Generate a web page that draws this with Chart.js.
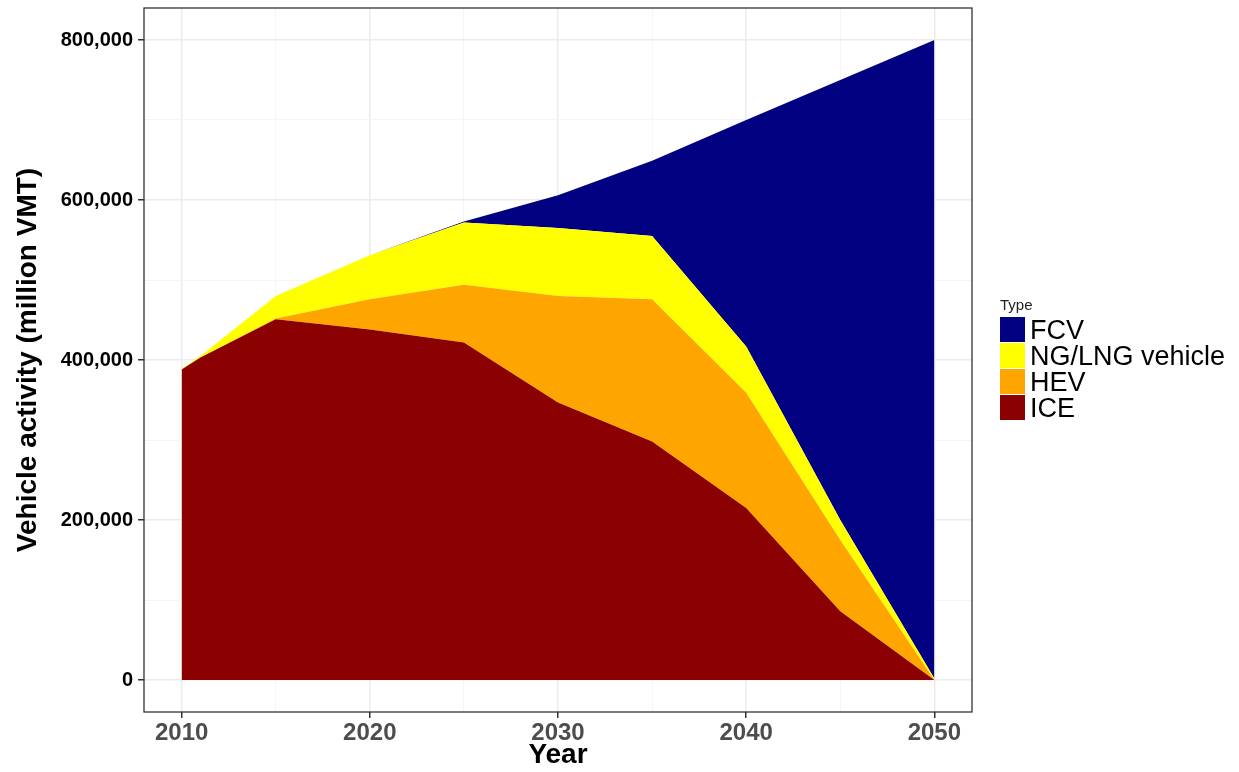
<!DOCTYPE html>
<html>
<head>
<meta charset="utf-8">
<script src="https://cdn.jsdelivr.net/npm/chart.js@4/dist/chart.umd.min.js"></script>
<style>
  body { margin: 0; background: #fff; font-family: "Liberation Sans", Arial, sans-serif; }
  #wrap { position: relative; width: 1239px; height: 772px; }
  #legend { position: absolute; left: 1000px; top: 297px; color: #000; }
  #legend .ttl { font-size: 15px; color: #222; height: 20px; line-height: 16px; }
  #legend .row { height: 26px; display: flex; align-items: center; }
  #legend .box { width: 25px; height: 25px; margin-right: 5px; border-bottom: 1px solid #fff; }
  #legend .lab { font-size: 27px; line-height: 26px; }
</style>
</head>
<body>
<div id="wrap">
  <canvas id="chart"></canvas>
  <div id="legend"></div>
</div>
<script>
const years = [2010, 2011, 2015, 2020, 2025, 2030, 2035, 2040, 2045, 2050]
const ice = [388000, 403000, 451000, 438000, 422000, 347000, 298000, 215000, 86000, 0]
const hev = [0, 0, 1000, 38000, 72000, 133000, 178000, 144000, 89000, 0]
const ng = [1000, 2000, 28000, 55000, 78000, 85000, 79000, 58000, 25000, 2000]
const fcv = [0, 0, 0, 0, 1000, 41000, 94000, 283000, 550000, 798000]

const xTicks = [2010, 2015, 2020, 2025, 2030, 2035, 2040, 2045, 2050]
const yTicks = [0, 100000, 200000, 300000, 400000, 500000, 600000, 700000, 800000]

const series = [
    { label: 'ICE', values: ice, color: '#8b0000' },
    { label: 'HEV', values: hev, color: '#ffa500' },
    { label: 'NG/LNG vehicle', values: ng, color: '#ffff00' },
    { label: 'FCV', values: fcv, color: '#000080' },
]

// legend like ggplot: title + stacked keys, top series first
let legendDiv = document.getElementById('legend')
let html = '<div class="ttl">Type</div>'
for (let i = series.length - 1; i >= 0; i--) {
    html += '<div class="row"><div class="box" style="background:' + series[i].color + '"></div>' +
        '<div class="lab">' + series[i].label + '</div></div>'
}
legendDiv.innerHTML = html

const panelBorder = {
    id: 'panelBorder',
    afterDatasetsDraw(chart) {
        const a = chart.chartArea
        const c = chart.ctx
        c.save()
        c.strokeStyle = '#333333'
        c.lineWidth = 1.3
        c.strokeRect(a.left, a.top, a.right - a.left, a.bottom - a.top)
        c.restore()
    }
}

const ctx = document.getElementById('chart').getContext('2d')

const dataChart = new Chart(ctx, {
    type: 'line',
    data: {
        datasets: series.map((s, i) => ({
            label: s.label,
            data: years.map((y, j) => ({ x: y, y: s.values[j] })),
            backgroundColor: s.color,
            borderColor: s.color,
            borderWidth: 0,
            pointRadius: 0,
            tension: 0,
            fill: i === 0 ? 'origin' : '-1',
        }))
    },
    options: {
        responsive: true,
        maintainAspectRatio: false,
        animation: false,
        layout: { padding: { left: 0, top: 0, right: 267, bottom: 0 } },
        plugins: {
            legend: { display: false },
            tooltip: { enabled: false },
        },
        scales: {
            x: {
                type: 'linear',
                min: 2008,
                max: 2052,
                afterBuildTicks: (scale) => { scale.ticks = xTicks.map(v => ({ value: v })) },
                afterFit: (scale) => { scale.height = 60; scale.paddingLeft = 0; scale.paddingRight = 0 },
                border: { display: false },
                grid: {
                    color: (c) => c.tick && c.tick.value % 10 === 0 ? '#ebebeb' : '#f5f5f5',
                    lineWidth: (c) => c.tick && c.tick.value % 10 === 0 ? 1.5 : 1,
                    tickColor: (c) => c.tick && c.tick.value % 10 === 0 ? '#333333' : 'rgba(0,0,0,0)',
                    tickLength: 6,
                },
                ticks: {
                    autoSkip: false,
                    maxRotation: 0,
                    padding: 1,
                    color: '#4d4d4d',
                    font: { family: '"Liberation Sans", Arial', size: 24, weight: 'bold' },
                    callback: (v) => v % 10 === 0 ? String(v) : '',
                },
                title: {
                    display: true,
                    text: 'Year',
                    color: '#000',
                    padding: { top: 0, bottom: 0 },
                    font: { family: '"Liberation Sans", Arial', size: 28, weight: 'bold' },
                },
            },
            y: {
                stacked: true,
                min: -40000,
                max: 840000,
                afterBuildTicks: (scale) => { scale.ticks = yTicks.map(v => ({ value: v })) },
                afterFit: (scale) => { scale.width = 144; scale.paddingTop = 8; scale.paddingBottom = 0 },
                border: { display: false },
                grid: {
                    color: (c) => c.tick && c.tick.value % 200000 === 0 ? '#ebebeb' : '#f5f5f5',
                    lineWidth: (c) => c.tick && c.tick.value % 200000 === 0 ? 1.5 : 1,
                    tickColor: (c) => c.tick && c.tick.value % 200000 === 0 ? '#333333' : 'rgba(0,0,0,0)',
                    tickLength: 6,
                },
                ticks: {
                    autoSkip: false,
                    padding: 5,
                    color: '#000',
                    font: { family: '"Liberation Sans", Arial', size: 20, weight: 'bold' },
                    callback: (v) => v % 200000 === 0 ? v.toLocaleString('en-US') : '',
                },
                title: {
                    display: true,
                    text: 'Vehicle activity (million VMT)',
                    color: '#000',
                    padding: { top: 11, bottom: 0 },
                    font: { family: '"Liberation Sans", Arial', size: 28, weight: 'bold' },
                },
            }
        }
    },
    plugins: [panelBorder]
});
</script>
</body>
</html>
